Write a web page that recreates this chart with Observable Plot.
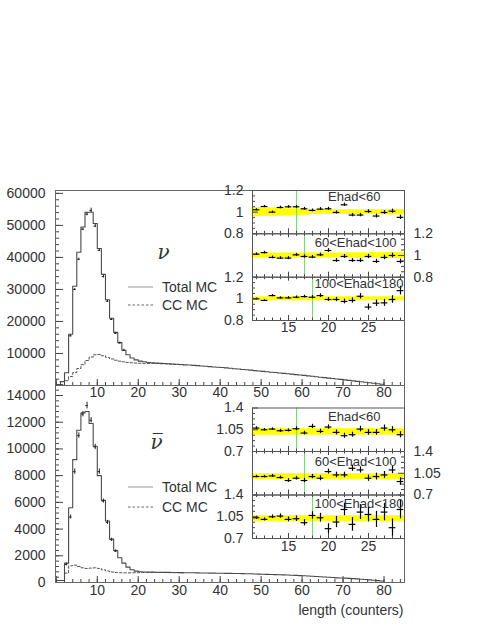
<!DOCTYPE html>
<html><head><meta charset="utf-8">
<script src="https://cdn.jsdelivr.net/npm/d3@7"></script>
<script src="https://cdn.jsdelivr.net/npm/@observablehq/plot@0.6"></script>
<style>
body{margin:0;background:#fff;}
#chart{position:relative;width:485px;height:627px;overflow:hidden;background:#fff;}
</style></head><body><div id="chart"></div>
<script>
// ---------- main histograms (bin lower edges 0,1,2,...) ----------
const nuTotal = [
  300, 1200, 4000, 16000, 31000, 41600, 49500, 54100, 54100, 50600,
  42800, 34700, 26800, 21000, 16600, 13400, 11000, 9600, 8600, 8000,
  7600, 7400, 7200, 7100, 7000, 6900, 6850, 6800, 6700, 6650,
  6550, 6450, 6400, 6300, 6200, 6100, 6000, 5900, 5800, 5700,
  5600, 5500, 5400, 5250, 5150, 5000, 4900, 4800, 4650, 4550,
  4400, 4300, 4150, 4050, 3900, 3800, 3650, 3550, 3400, 3300,
  3150, 3000, 2900, 2750, 2600, 2450, 2300, 2200, 2050, 1900,
  1750, 1600, 1450, 1300, 1150, 1000, 850, 700, 550, 400
];
const nuCCStart = 1;
const nuCC = [300, 1500, 2800, 4000, 5300, 6500, 7800, 8900, 9600, 9700,
  9300, 8800, 8300, 7900, 7600, 7400, 7200, 7100, 7000, 6950,
  6900, 6900, 6900, 6850, 6800, 6750, 6700, 6620, 6570, 6480];
const nuDataBins = [3, 4, 5, 6, 7, 8, 9, 10, 11, 12, 13, 14, 15, 16];
const nuData = [15500, 30000, 39400, 48800, 53500, 54700, 49800, 42200, 34000, 26300, 20600, 16300, 13300, 11000];
const nuDataErr = [300, 300, 400, 400, 500, 700, 500, 400, 400, 300, 300, 300, 300, 300];

const barTotal = [
  150, 150, 1450, 5600, 9200, 11400, 12700, 12800, 11900, 10200,
  8000, 6150, 4600, 3250, 2400, 1850, 1450, 1150, 950, 850,
  800, 790, 780, 775, 770, 765, 760, 755, 750, 745,
  740, 735, 730, 725, 720, 715, 710, 705, 700, 695,
  690, 685, 680, 675, 670, 665, 660, 650, 640, 630,
  620, 610, 600, 590, 580, 570, 560, 545, 530, 515,
  500, 485, 470, 450, 430, 410, 390, 370, 350, 340,
  330, 310, 290, 270, 245, 220, 195, 170, 140, 110
];
const barCCStart = 2;
const barCC = [700, 1250, 1300, 1200, 1100, 1050, 1080, 1100, 1050, 950,
  860, 790, 750, 730, 720, 720, 725, 730, 740, 745,
  750, 750, 750, 750, 745, 740, 735, 730, 725];
const barDataBins = [2, 3, 4, 5, 6, 7, 8, 9, 10, 11, 12, 13, 14];
const barData = [1350, 4900, 8300, 11000, 12600, 13250, 12150, 10150, 8300, 6100, 4500, 3200, 2350];
const barDataErr = [100, 150, 200, 200, 200, 250, 200, 200, 200, 150, 150, 120, 100];

// ---------- tick labels ----------
const mainXLabels = [10, 20, 30, 40, 50, 60, 70, 80];
const nuYLabels = [10000, 20000, 30000, 40000, 50000, 60000];
const barYLabels = [0, 2000, 4000, 6000, 8000, 10000, 12000, 14000];
const insetXLabels = [15, 20, 25];
const nuInsetYLabels = [0.8, 1, 1.2];
const barInsetYLabels = [0.7, 1.05, 1.4];
const legendLabels = ["Total MC", "CC MC"];
const ehadLabels = ["Ehad<60", "60<Ehad<100", "100<Ehad<180"];
const greenCuts = [16, 17, 18];

// ---------- inset ratios (bins 11..29) ----------
const insetBins = [11,12,13,14,15,16,17,18,19,20,21,22,23,24,25,26,27,28,29];
const nuR60  = [1.022,1.052,1.0,1.043,1.049,1.049,1.031,1.016,1.028,1.031,0.997,1.068,0.973,0.973,1.006,0.964,0.997,1.009,0.952];
const nuE60  = [0.01,0.01,0.01,0.012,0.012,0.012,0.013,0.013,0.014,0.014,0.015,0.015,0.016,0.016,0.017,0.018,0.018,0.019,0.02];
const nuB60  = [0.04,0.038,0.035,0.032,0.03,0.027,0.024,0.02,0.018,0.018,0.018,0.018,0.02,0.02,0.02,0.02,0.022,0.022,0.022];
const nuR100 = [1.012,1.027,0.982,0.976,0.976,1.006,0.991,0.985,1.006,1.046,0.954,0.991,0.954,0.954,0.991,0.945,0.982,1.0,0.945];
const nuE100 = [0.012,0.012,0.013,0.013,0.014,0.014,0.015,0.015,0.016,0.017,0.017,0.018,0.018,0.019,0.02,0.02,0.021,0.022,0.022];
const nuB100 = [0.02,0.02,0.02,0.02,0.02,0.02,0.02,0.02,0.02,0.02,0.02,0.02,0.021,0.021,0.022,0.022,0.023,0.024,0.025];
const nuR180 = [1.0,0.985,1.03,1.009,1.009,1.015,1.021,1.015,1.03,0.994,0.994,0.976,0.985,1.024,0.924,0.96,0.963,0.994,1.076];
const nuE180 = [0.008,0.008,0.01,0.01,0.011,0.012,0.013,0.015,0.017,0.018,0.02,0.022,0.024,0.026,0.028,0.03,0.032,0.035,0.04];
const nuB180 = [0.015,0.015,0.015,0.015,0.015,0.015,0.015,0.015,0.015,0.015,0.015,0.015,0.015,0.015,0.015,0.015,0.015,0.015,0.015];

const barR60  = [1.077,1.05,1.061,1.034,1.04,1.066,0.997,1.103,1.023,1.093,1.007,0.954,0.97,1.061,1.007,1.007,1.077,1.05,0.97];
const barE60  = [0.02,0.02,0.02,0.025,0.025,0.03,0.03,0.035,0.035,0.035,0.04,0.04,0.04,0.045,0.045,0.045,0.05,0.05,0.05];
const barB60  = [0.045,0.045,0.045,0.045,0.045,0.045,0.045,0.045,0.045,0.045,0.045,0.045,0.045,0.045,0.045,0.045,0.045,0.045,0.045];
const barR100 = [0.997,0.997,1.007,0.981,0.933,0.97,0.933,0.997,0.97,1.077,1.023,1.023,1.13,1.103,0.97,0.997,1.023,1.103,0.917];
const barE100 = [0.02,0.02,0.025,0.025,0.03,0.03,0.035,0.035,0.04,0.04,0.045,0.045,0.05,0.05,0.05,0.055,0.055,0.06,0.06];
const barB100 = [0.04,0.04,0.04,0.04,0.04,0.04,0.04,0.04,0.04,0.04,0.04,0.04,0.04,0.04,0.04,0.04,0.04,0.04,0.04];
const barR180 = [1.034,1.007,1.05,1.061,1.007,1.018,0.954,1.071,1.034,0.858,0.965,1.167,0.927,1.125,1.087,1.007,1.125,0.874,1.167];
const barE180 = [0.025,0.025,0.03,0.035,0.04,0.045,0.05,0.06,0.07,0.08,0.09,0.1,0.11,0.12,0.12,0.13,0.14,0.14,0.15];
const barB180 = [0.04,0.04,0.04,0.04,0.04,0.04,0.04,0.04,0.04,0.04,0.04,0.04,0.04,0.04,0.04,0.04,0.04,0.04,0.04];
const bandCenters = {nu: [1.0, 1.0, 1.0], bar: [1.015, 0.995, 1.02]};

// ---------- drawing ----------
const W = 485, H = 627;
const FONT = "'Liberation Sans', Arial, Helvetica, sans-serif";
const root = document.getElementById("chart");
const baseStyle = `position:absolute;left:0;top:0;background:transparent;overflow:visible;font-family:${FONT};font-size:14px;color:#333;`;
const INK = "#444";

function stepPoints(values, start) {
  const pts = values.map((v, i) => ({x: start + i, y: v}));
  pts.push({x: start + values.length, y: values[values.length - 1]});
  return pts;
}

const xDomain = [-0.2, 85];
const xMinor = d3.range(0, 85, 2);
const xMajor = d3.range(0, 85, 10);

function mainPlot(o) {
  const ml = 55, mr = 81;
  const fw = W - ml - mr, fh = H - o.mt - o.mb;
  const dat = o.dataBins.map((b, i) => ({b, v: o.data[i], e: o.err[i]}));
  const marks = [
    Plot.line(stepPoints(o.cc, o.ccStart), {x: "x", y: "y", curve: "step-after", stroke: "#555", strokeWidth: 1, strokeDasharray: "2.5,2"}),
    Plot.line(stepPoints(o.total, 0), {x: "x", y: "y", curve: "step-after", stroke: "#4a4a4a", strokeWidth: 1.1}),
    Plot.ruleY(dat, {y: "v", x1: d => d.b + 0.2, x2: d => d.b + 0.8, stroke: "#222"}),
    Plot.ruleX(dat, {x: d => d.b + 0.5, y1: d => d.v - d.e, y2: d => d.v + d.e, stroke: "#222"}),
    Plot.tickX(xMinor, {x: d => d, insetTop: fh - 3, stroke: INK}),
    Plot.tickX(xMajor, {x: d => d, insetTop: fh - 6, stroke: INK}),
    Plot.tickY(o.yMinor, {y: d => d, insetRight: fw - 4, stroke: INK}),
    Plot.tickY(o.yMajor, {y: d => d, insetRight: fw - 8, stroke: INK}),
    Plot.frame({stroke: "#666"}),
    Plot.axisX({ticks: mainXLabels, tickSize: 0, tickPadding: o.xpad, label: null, tickFormat: d => String(d)}),
    Plot.axisY({ticks: o.yLabels, tickSize: 0, tickPadding: 10, label: null, tickFormat: d => String(d)}),
    Plot.text([o.symbol], {text: d => d, frameAnchor: "top-left", dx: o.sdx, dy: o.sdy, lineAnchor: "middle", textAnchor: "start", fontFamily: "DejaVu Serif", fontStyle: "italic", fontSize: 20, fill: "#333"})
  ];
  if (o.title) marks.push(Plot.text([o.title], {text: d => d, frameAnchor: "bottom-right", dx: -1, dy: 28, lineAnchor: "middle", textAnchor: "end", fontSize: 14, fill: "#333"}));
  return Plot.plot({
    width: W, height: H, marginLeft: ml, marginRight: mr, marginTop: o.mt, marginBottom: o.mb,
    style: baseStyle,
    x: {domain: xDomain, axis: null},
    y: {domain: o.ydomain, axis: null},
    marks
  });
}

function insetPlot(o) {
  const ml = 252, mr = 81;
  const fw = W - ml - mr, fh = o.bottom - o.top;
  const idx = insetBins.map((b, i) => i);
  const minorX = d3.range(11, 30);
  const marks = [
    Plot.rect(idx, {x1: i => insetBins[i] - 0.5, x2: i => insetBins[i] + 0.5, y1: i => o.bandC - o.band[i], y2: i => o.bandC + o.band[i], fill: "#ffff00", stroke: "#ffff00", strokeWidth: 0.6}),
    Plot.ruleX([o.green], {x: d => d, stroke: "#66e866", strokeWidth: 1}),
    Plot.ruleY(idx, {y: i => o.ratio[i], x1: i => insetBins[i] - 0.42, x2: i => insetBins[i] + 0.42, stroke: "#000", strokeWidth: 1.2}),
    Plot.ruleX(idx, {x: i => insetBins[i], y1: i => o.ratio[i] - o.err[i], y2: i => o.ratio[i] + o.err[i], stroke: "#000", strokeWidth: 1.2}),
    Plot.tickX(minorX, {x: d => d, insetTop: fh - 2.5, stroke: INK}),
    Plot.tickX(insetXLabels, {x: d => d, insetTop: fh - 5, stroke: INK})
  ];
  if (o.topTicks) {
    marks.push(Plot.tickX(minorX, {x: d => d, insetBottom: fh - 2.5, stroke: INK}));
    marks.push(Plot.tickX(insetXLabels, {x: d => d, insetBottom: fh - 4, stroke: INK}));
  }
  if (o.side === "left") {
    marks.push(Plot.tickY(o.yMinor, {y: d => d, insetRight: fw - 3, stroke: INK}));
    marks.push(Plot.tickY(o.yLabels, {y: d => d, insetRight: fw - 6, stroke: INK}));
  } else {
    marks.push(Plot.tickY(o.yMinor, {y: d => d, insetLeft: fw - 3, stroke: INK}));
    marks.push(Plot.tickY(o.yLabels, {y: d => d, insetLeft: fw - 6, stroke: INK}));
  }
  marks.push(Plot.frame({stroke: "#555"}));
  marks.push(Plot.axisY({anchor: o.side, ticks: o.yLabels, tickSize: 0, tickPadding: 9, label: null, tickFormat: d => String(d)}));
  marks.push(Plot.text([o.label], {text: d => d, frameAnchor: "top-right", textAnchor: "end", lineAnchor: "top", dx: o.ldx, dy: o.ldy, fontSize: 13, fill: "#333"}));
  if (o.xLabels) marks.push(Plot.axisX({ticks: insetXLabels, tickSize: 0, tickPadding: o.xpad, label: null, tickFormat: d => String(d)}));
  return Plot.plot({
    width: W, height: H, marginLeft: ml, marginRight: mr, marginTop: o.top, marginBottom: H - o.bottom,
    style: baseStyle,
    x: {domain: [10.5, 29.5], axis: null},
    y: {domain: o.ydomain, axis: null},
    marks
  });
}

// main panels
root.appendChild(mainPlot({
  mt: 190, mb: 242, ydomain: [0, 60900], total: nuTotal, cc: nuCC, ccStart: nuCCStart,
  dataBins: nuDataBins, data: nuData, err: nuDataErr,
  yLabels: nuYLabels, yMajor: d3.range(0, 60001, 10000), yMinor: d3.range(0, 60001, 2000),
  xpad: 2, symbol: "\u03BD", sdx: 102, sdy: 62
}));
root.appendChild(mainPlot({
  mt: 385, mb: 45, ydomain: [0, 14750], total: barTotal, cc: barCC, ccStart: barCCStart,
  dataBins: barDataBins, data: barData, err: barDataErr,
  yLabels: barYLabels, yMajor: d3.range(0, 14001, 2000), yMinor: d3.range(0, 14700, 400),
  xpad: 3, symbol: "\u03BD\u0305", sdx: 95, sdy: 57, title: "length (counters)"
}));

// insets
const nuMinor = [0.85, 0.9, 0.95, 1.05, 1.1, 1.15];
const barMinor = [0.7875, 0.875, 0.9625, 1.1375, 1.225, 1.3125];
const nuPanels = [
  {top: 190, bottom: 233.3, ratio: nuR60, err: nuE60, band: nuB60, side: "left", ldx: -24, ldy: 1},
  {top: 233.3, bottom: 276.7, ratio: nuR100, err: nuE100, band: nuB100, side: "right", ldx: -8, ldy: 4, topTicks: true},
  {top: 276.7, bottom: 320, ratio: nuR180, err: nuE180, band: nuB180, side: "left", ldx: -1, ldy: 2, topTicks: true, xLabels: true, xpad: 2}
];
nuPanels.forEach((p, k) => root.appendChild(insetPlot({
  ...p, ydomain: [0.8, 1.2], yLabels: nuInsetYLabels, yMinor: nuMinor,
  bandC: bandCenters.nu[k], green: greenCuts[k], label: ehadLabels[k]
})));
const barPanels = [
  {top: 407.5, bottom: 451, ratio: barR60, err: barE60, band: barB60, side: "left", ldx: -24, ldy: 4},
  {top: 451, bottom: 494.5, ratio: barR100, err: barE100, band: barB100, side: "right", ldx: -8, ldy: 5, topTicks: true},
  {top: 494.5, bottom: 538, ratio: barR180, err: barE180, band: barB180, side: "left", ldx: -1, ldy: 4, topTicks: true, xLabels: true, xpad: 3}
];
barPanels.forEach((p, k) => root.appendChild(insetPlot({
  ...p, ydomain: [0.7, 1.4], yLabels: barInsetYLabels, yMinor: barMinor,
  bandC: bandCenters.bar[k], green: greenCuts[k], label: ehadLabels[k]
})));

// legends (layout overlay)
const leg = d3.create("svg").attr("width", W).attr("height", H).attr("style", baseStyle);
[[287, 305], [487, 507]].forEach(rows => {
  rows.forEach((yy, i) => {
    leg.append("line").attr("x1", 128).attr("x2", 153).attr("y1", yy).attr("y2", yy)
      .attr("stroke", i === 0 ? "#999" : "#666").attr("stroke-width", 1)
      .attr("stroke-dasharray", i === 0 ? null : "2.5,2");
    leg.append("text").attr("x", 162).attr("y", yy).attr("dy", "0.35em")
      .attr("fill", "#333").attr("font-size", 14).text(legendLabels[i]);
  });
});
root.appendChild(leg.node());
</script>
</body></html>
